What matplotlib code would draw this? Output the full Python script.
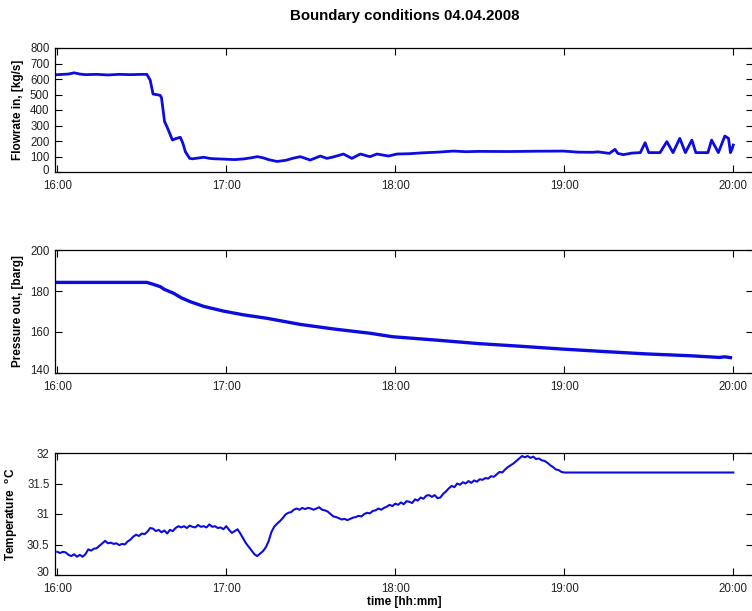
import matplotlib
matplotlib.use("Agg")
import matplotlib.pyplot as plt
from matplotlib import font_manager as fm
from matplotlib.transforms import ScaledTranslation

plt.rcParams['font.family'] = ['Liberation Sans', 'DejaVu Sans']
plt.rcParams['mathtext.fontset'] = 'custom'
plt.rcParams['mathtext.rm'] = 'Liberation Sans'
plt.rcParams['mathtext.bf'] = 'Liberation Sans:bold'

# time axis in minutes after 16:00
flow_t = [0, 2, 4, 6, 8, 10, 14, 18, 22, 26, 30, 31.8, 33, 34, 35, 36.5, 37, 38.1, 39,
          40.9, 42, 43.7, 44.6, 45.5, 47, 48, 50, 52, 54, 56, 58, 60.2, 63, 66, 69, 71,
          73, 75, 78, 81, 84, 86.3, 89.8, 93.4, 95.7, 98, 101.6, 104.6, 107.6, 111,
          113.5, 117.6, 120.6, 125, 130, 135, 140.7, 145, 150, 160, 170, 179.7, 185,
          190, 192, 194, 196, 198, 199, 201, 204, 207, 208.7, 210, 214, 216.4, 218.6,
          221, 223, 225.3, 226.7, 231, 232.3, 234.7, 237, 238.3, 239, 239.6, 240]
flow_v = [628, 630, 632, 640, 632, 628, 630, 626, 630, 628, 630, 630, 593, 503, 500,
          495, 480, 325, 290, 206, 215, 224, 185, 130, 88, 85, 90, 95, 88, 85, 84, 82,
          80, 84, 92, 99, 92, 80, 68, 75, 90, 99, 77, 103, 88, 97, 116, 88, 116, 99,
          116, 103, 116, 118, 124, 128, 135, 131, 133, 132, 134, 135, 128, 127, 130,
          125, 120, 146, 120, 112, 122, 125, 189, 125, 125, 196, 125, 217, 125, 206,
          125, 125, 206, 125, 232, 217, 125, 150, 174]

pres_t = [0, 31.8, 34, 36.6, 38, 41.3, 44, 47.2, 52, 59, 66, 74.4, 86.3, 98, 111, 119,
          135, 150, 165, 179, 195, 209.3, 225, 235, 237, 239]
pres_v = [184.2, 184.2, 183.3, 182.1, 180.8, 178.9, 176.7, 174.8, 172.5, 170.2, 168.4,
          166.7, 163.7, 161.5, 159.4, 157.7, 156.0, 154.3, 153.0, 151.7, 150.4, 149.3,
          148.4, 147.6, 147.9, 147.5]

temp_t = list(range(0, 181)) + [240]
temp_v = [30.38, 30.36, 30.38, 30.37, 30.33, 30.31, 30.34, 30.30, 30.33, 30.30,
          30.34, 30.42, 30.40, 30.43, 30.44, 30.48, 30.52, 30.56, 30.52, 30.53,
          30.51, 30.52, 30.49, 30.51, 30.50, 30.55, 30.58, 30.63, 30.66, 30.64,
          30.68, 30.67, 30.71, 30.77, 30.76, 30.72, 30.74, 30.70, 30.73, 30.68,
          30.74, 30.72, 30.77, 30.80, 30.78, 30.80, 30.77, 30.81, 30.79, 30.78,
          30.82, 30.79, 30.80, 30.78, 30.83, 30.79, 30.80, 30.77, 30.78, 30.75,
          30.80, 30.74, 30.69, 30.72, 30.75, 30.68, 30.60, 30.52, 30.46, 30.40,
          30.34, 30.31, 30.35, 30.39, 30.45, 30.55, 30.70, 30.79, 30.84, 30.88,
          30.93, 30.99, 31.02, 31.03, 31.07, 31.09, 31.07, 31.10, 31.08, 31.10,
          31.09, 31.07, 31.09, 31.11, 31.07, 31.06, 31.04, 31.00, 30.96, 30.95,
          30.93, 30.91, 30.92, 30.90, 30.92, 30.94, 30.95, 30.97, 30.96, 31.00,
          31.02, 31.01, 31.05, 31.06, 31.09, 31.07, 31.10, 31.12, 31.15, 31.13,
          31.17, 31.15, 31.19, 31.16, 31.21, 31.20, 31.18, 31.24, 31.22, 31.27,
          31.25, 31.30, 31.31, 31.28, 31.31, 31.26, 31.27, 31.33, 31.37, 31.42,
          31.46, 31.44, 31.50, 31.48, 31.52, 31.50, 31.54, 31.51, 31.55, 31.53,
          31.57, 31.56, 31.59, 31.58, 31.62, 31.61, 31.65, 31.69, 31.68, 31.73,
          31.77, 31.80, 31.83, 31.87, 31.91, 31.95, 31.93, 31.95, 31.92, 31.94,
          31.90, 31.91, 31.88, 31.87, 31.84, 31.80, 31.77, 31.73, 31.72, 31.69,
          31.68, 31.68]

xtick_pos = [0, 60, 120, 180, 240]
xtick_labels = ['16:00', '17:00', '18:00', '19:00', '20:00']

flow_ticks = list(range(0, 801, 100))
pres_ticks = [140, 160, 180, 200]
temp_ticks = [30, 30.5, 31, 31.5, 32]
temp_tick_labels = ['30', '30.5', '31', '31.5', '32']

# condensed face for the tick numbers when available
try:
    fm.findfont('Liberation Sans Narrow', fallback_to_default=False)
    tick_family, tick_size = 'Liberation Sans Narrow', 9.6
except Exception:
    tick_family, tick_size = 'Liberation Sans', 8.3

line_color = '#0c0ce0'
W, H = 752, 611
fig = plt.figure(figsize=(W / 100, H / 100), dpi=100)

left = 55 / W
width = (753 - 55) / W


def make_axes(top_px, bottom_px):
    return fig.add_axes([left, 1 - bottom_px / H, width, (bottom_px - top_px) / H])


ax1 = make_axes(48, 172)
ax2 = make_axes(250, 373)
ax3 = make_axes(453, 575)

ax1.plot(flow_t, flow_v, color=line_color, lw=2.0)
ax2.plot(pres_t, pres_v, color=line_color, lw=2.4)
ax3.plot(temp_t, temp_v, color=line_color, lw=1.5)

ax1.set_ylim(0, 800)
ax1.set_yticks(flow_ticks)
ax2.set_ylim(140, 200)
ax2.set_yticks(pres_ticks)
ax3.set_ylim(30, 32)
ax3.set_yticks(temp_ticks)
ax3.set_yticklabels(temp_tick_labels)

lift = ScaledTranslation(0, 3 / 100, fig.dpi_scale_trans)
for ax in (ax1, ax2, ax3):
    ax.set_xlim(-0.8, 247)
    ax.set_xticks(xtick_pos)
    ax.set_xticklabels(xtick_labels)
    ax.tick_params(direction='in', length=5, width=0.8, top=True, right=True,
                   colors='black', labelcolor='#222222')
    ax.tick_params(axis='x', pad=5.5)
    ax.tick_params(axis='y', pad=4)
    for lab in ax.get_xticklabels() + ax.get_yticklabels():
        lab.set_fontfamily(tick_family)
        lab.set_fontsize(tick_size)
    # the lowest y value sits a touch above the frame
    bottom_lab = ax.get_yticklabels()[0]
    bottom_lab.set_transform(bottom_lab.get_transform() + lift)
    for s in ax.spines.values():
        s.set_linewidth(0.9)
        s.set_color('black')

lab_kw = dict(fontsize=8.5, fontweight='bold')
ax1.set_ylabel('Flowrate in, [kg/s]', **lab_kw)
ax2.set_ylabel('Pressure out, [barg]', **lab_kw)
ax3.set_ylabel(r'Temperature  $^{\mathbf{o}}$C', **lab_kw)
ax1.yaxis.set_label_coords(-0.045, 0.5)
ax2.yaxis.set_label_coords(-0.045, 0.5)
ax3.yaxis.set_label_coords(-0.050, 0.5)

ax3.set_xlabel('time [hh:mm]', fontsize=8.5, fontweight='bold', labelpad=1)

fig.text(405 / W, 1 - 16 / H, 'Boundary conditions 04.04.2008',
         ha='center', va='center', fontsize=10.8, fontweight='bold')

fig.savefig('out.png', dpi=100)
